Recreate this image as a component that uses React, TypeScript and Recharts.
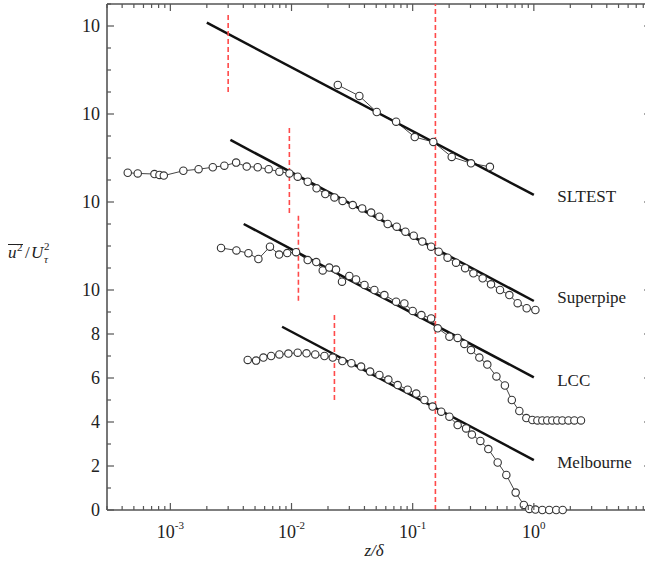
import React from "react";
import { ComposedChart, Line, XAxis, YAxis, ReferenceLine, ReferenceDot } from "recharts";

// z/delta and u^2/U_tau^2 (offset curves)
const sltestZ = [0.0241, 0.0363, 0.0505, 0.073, 0.104, 0.148, 0.21, 0.303, 0.434];
const sltestU = [19.32, 18.82, 18.09, 17.65, 16.95, 16.73, 16.05, 15.76, 15.6];

const superpipeZ = [
    4.45e-4, 5.38e-4, 7.39e-4, 8.13e-4, 8.83e-4, 1.28e-3, 1.71e-3, 2.24e-3, 2.79e-3, 3.49e-3,
    4.27e-3, 5.26e-3, 6.48e-3, 7.94e-3, 9.61e-3, 1.125e-2, 1.36e-2, 1.61e-2, 1.9e-2, 2.26e-2,
    2.64e-2, 3.2e-2, 3.83e-2, 4.54e-2, 5.31e-2, 6.22e-2, 7.38e-2, 8.71e-2, 0.102, 0.12,
    0.142, 0.164, 0.194, 0.228, 0.271, 0.317, 0.378, 0.443, 0.526, 0.628, 0.735, 0.873, 1.03,
];
const superpipeU = [
    15.33, 15.3, 15.27, 15.23, 15.2, 15.42, 15.49, 15.58, 15.65, 15.79,
    15.61, 15.58, 15.49, 15.38, 15.3, 15.15, 14.92, 14.62, 14.36, 14.21,
    14.05, 13.86, 13.71, 13.52, 13.33, 13.0, 12.88, 12.65, 12.47, 12.2,
    11.97, 11.74, 11.47, 11.24, 10.99, 10.76, 10.53, 10.26, 10.0, 9.77, 9.4, 9.17, 9.09,
];

const lccZ = [
    2.62e-3, 3.51e-3, 4.41e-3, 5.33e-3, 6.64e-3, 7.9e-3, 9.22e-3, 1.09e-2, 1.36e-2, 1.6e-2,
    1.81e-2, 2.05e-2, 2.33e-2, 2.61e-2, 3.0e-2, 3.41e-2, 4.0e-2, 4.83e-2, 5.84e-2, 7.3e-2,
    8.54e-2, 0.1, 0.118, 0.142, 0.161, 0.201, 0.235, 0.267, 0.303, 0.355,
    0.413, 0.491, 0.577, 0.658, 0.759, 0.867, 0.972,
    1.07, 1.175, 1.29, 1.42, 1.56, 1.72, 1.93, 2.16, 2.45,
];
const lccU = [
    11.91, 11.8, 11.67, 11.41, 11.97, 11.61, 11.68, 11.72, 11.36, 11.27,
    10.89, 11.02, 10.93, 10.38, 10.64, 10.48, 10.23, 10.0, 9.77, 9.47,
    9.39, 9.05, 8.86, 8.71, 8.26, 7.88, 7.82, 7.55, 7.27, 6.93,
    6.61, 6.07, 5.66, 5.0, 4.5, 4.18, 4.09,
    4.07, 4.07, 4.07, 4.07, 4.07, 4.07, 4.07, 4.07, 4.07,
];

const melbourneZ = [
    4.35e-3, 5.1e-3, 5.86e-3, 6.79e-3, 7.94e-3, 9.42e-3, 1.125e-2, 1.33e-2, 1.57e-2, 1.87e-2,
    2.19e-2, 2.63e-2, 3.12e-2, 3.75e-2, 4.45e-2, 5.31e-2, 6.3e-2, 7.52e-2, 9.09e-2, 0.107,
    0.125, 0.146, 0.172, 0.201, 0.235, 0.276, 0.308, 0.362, 0.421, 0.503,
    0.593, 0.708, 0.827, 0.918, 1.03, 1.175, 1.34, 1.53, 1.73,
];
const melbourneU = [
    6.82, 6.79, 6.93, 7.0, 7.07, 7.11, 7.15, 7.12, 7.07, 7.0,
    6.93, 6.77, 6.67, 6.52, 6.29, 6.14, 5.93, 5.68, 5.47, 5.29,
    5.0, 4.7, 4.47, 4.24, 3.86, 3.71, 3.43, 3.14, 2.77, 2.16,
    1.59, 0.79, 0.23, 0.05, 0.02, 0, 0, 0, 0,
];

// log-law fit lines: start / end points per dataset
const seriesNames = ["SLTEST", "Superpipe", "LCC", "Melbourne"];
const fitStartZ = [2.0e-3, 3.13e-3, 4.03e-3, 8.36e-3];
const fitStartU = [22.15, 16.82, 13.0, 8.33];
const fitEndZ = [1.0, 1.0, 1.0, 1.0];
const fitEndU = [14.32, 9.5, 6.03, 2.27];
const nameLabelZ = 1.56;
const nameLabelU = [14.24, 9.66, 5.89, 2.18];

// red dashed markers
const dashZ = [3.0e-3, 9.6e-3, 1.14e-2, 2.26e-2, 0.154];
const dashLow = [19.0, 13.5, 9.51, 5.0, 0];
const dashHigh = [22.55, 17.5, 13.51, 8.97, 23];

// axis ticks
const yMajor = [0, 2, 4, 6, 8, 10, 14, 18, 22];
const yMajorLabels = ["0", "2", "4", "6", "8", "10", "10", "10", "10"];
const yTicks = Array.from({ length: 24 }, (_, i) => i);
const xDomain = [3e-4, 10];
const xLabelled = [-3, -2, -1, 0];
const xTicks: number[] = [];
[-4, -3, -2, -1, 0, 1].forEach((d) => {
    [1, 2, 3, 4, 5, 6, 7, 8, 9].forEach((m) => {
        const v = m * Math.pow(10, d);
        if (v >= xDomain[0] * 0.999 && v <= xDomain[1] * 1.001) xTicks.push(v);
    });
});

const toPoints = (zs: number[], us: number[]) => zs.map((x, i) => ({ x, y: us[i] }));
const datasets = [
    toPoints(sltestZ, sltestU),
    toPoints(superpipeZ, superpipeU),
    toPoints(lccZ, lccU),
    toPoints(melbourneZ, melbourneU),
];

const AXIS = "#555";
const FONT = "'Liberation Serif', 'DejaVu Serif', serif";
const serif = { fontFamily: FONT };
const PLOT_TOP = 4;
const PLOT_RIGHT = 655;

const XTick = (props: any) => {
    const { x, y, payload } = props;
    const lg = Math.log10(payload.value);
    const major = Math.abs(lg - Math.round(lg)) < 1e-6;
    const len = major ? 7 : 4;
    const showLabel = major && xLabelled.includes(Math.round(lg));
    return (
        <g>
            <line x1={x} x2={x} y1={y} y2={y - len} stroke={AXIS} strokeWidth={1.2} />
            <line x1={x} x2={x} y1={PLOT_TOP} y2={PLOT_TOP + len} stroke={AXIS} strokeWidth={1.2} />
            {showLabel && (
                <text x={x} y={y + 28} textAnchor="middle" fontSize={18} style={serif} fill="#222">
                    10
                    <tspan dy={-9} fontSize={11}>{Math.round(lg)}</tspan>
                </text>
            )}
        </g>
    );
};

const YTick = (props: any) => {
    const { x, y, payload } = props;
    const idx = yMajor.indexOf(payload.value);
    const major = idx >= 0;
    const len = major ? 7 : 4;
    return (
        <g>
            <line x1={x} x2={x + len} y1={y} y2={y} stroke={AXIS} strokeWidth={1.2} />
            <line x1={PLOT_RIGHT} x2={PLOT_RIGHT - (major ? 11 : 4)} y1={y} y2={y} stroke={AXIS} strokeWidth={1.2} />
            {major && (
                <text x={x - 7} y={y} textAnchor="end" dominantBaseline="central" fontSize={18} style={serif} fill="#222">
                    {yMajorLabels[idx]}
                </text>
            )}
        </g>
    );
};

const OpenDot = (props: any) => {
    const { cx, cy, index } = props;
    if (cx == null || cy == null) return <g key={index} />;
    return <circle key={index} cx={cx} cy={cy} r={3.7} fill="#fff" stroke="#333" strokeWidth={1.1} />;
};

export default function App() {
    return (
        <div style={{ position: "absolute", left: 0, top: 0, width: 645, height: 566, overflow: "hidden", background: "#fff" }}>
            <ComposedChart width={665} height={566} margin={{ top: PLOT_TOP, right: 10, bottom: 26, left: 0 }}>
                <XAxis
                    dataKey="x"
                    type="number"
                    scale="log"
                    domain={xDomain}
                    ticks={xTicks}
                    interval={0}
                    tick={XTick}
                    tickLine={false}
                    tickSize={0}
                    tickMargin={0}
                    height={30}
                    axisLine={{ stroke: AXIS, strokeWidth: 1.6 }}
                />
                <YAxis
                    type="number"
                    domain={[0, 23]}
                    ticks={yTicks}
                    interval={0}
                    width={107}
                    tick={YTick}
                    tickLine={false}
                    tickSize={0}
                    tickMargin={0}
                    axisLine={{ stroke: AXIS, strokeWidth: 1.6 }}
                />
                <ReferenceLine y={23} stroke={AXIS} strokeWidth={1.6} />
                {datasets.map((d, i) => (
                    <Line
                        key={seriesNames[i]}
                        data={d}
                        dataKey="y"
                        type="linear"
                        stroke="#444"
                        strokeWidth={1}
                        dot={OpenDot}
                        activeDot={false}
                        isAnimationActive={false}
                    />
                ))}
                {seriesNames.map((n, i) => (
                    <Line
                        key={"fit-" + n}
                        data={[
                            { x: fitStartZ[i], y: fitStartU[i] },
                            { x: fitEndZ[i], y: fitEndU[i] },
                        ]}
                        dataKey="y"
                        type="linear"
                        stroke="#111"
                        strokeWidth={2.5}
                        dot={false}
                        activeDot={false}
                        isAnimationActive={false}
                    />
                ))}
                {dashZ.map((z, i) => (
                    <ReferenceLine
                        key={"dash-" + i}
                        segment={[
                            { x: z, y: dashLow[i] },
                            { x: z, y: dashHigh[i] },
                        ]}
                        stroke="#ff4a4a"
                        strokeWidth={1.6}
                        strokeDasharray="5 3"
                    />
                ))}
                {seriesNames.map((n, i) => (
                    <ReferenceDot
                        key={"lbl-" + n}
                        x={nameLabelZ}
                        y={nameLabelU[i]}
                        r={0}
                        shape={(p: any) => (
                            <text x={p.cx} y={p.cy} dominantBaseline="central" fontSize={17} style={serif} fill="#222">
                                {n}
                            </text>
                        )}
                    />
                ))}
            </ComposedChart>
            <svg width={645} height={566} style={{ position: "absolute", left: 0, top: 0, pointerEvents: "none" }}>
                <g style={serif} fill="#222">
                    <text x={8} y={258} fontSize={17} fontStyle="italic">u</text>
                    <text x={17} y={251} fontSize={11}>2</text>
                    <line x1={8} x2={23} y1={244.5} y2={244.5} stroke="#222" strokeWidth={1} />
                    <text x={25} y={258} fontSize={17}>/</text>
                    <text x={31} y={258} fontSize={17} fontStyle="italic">U</text>
                    <text x={44} y={250} fontSize={11}>2</text>
                    <text x={44} y={263} fontSize={11} fontStyle="italic">τ</text>
                    <text x={374} y={556} fontSize={17} fontStyle="italic" textAnchor="middle">z/δ</text>
                </g>
            </svg>
        </div>
    );
}
